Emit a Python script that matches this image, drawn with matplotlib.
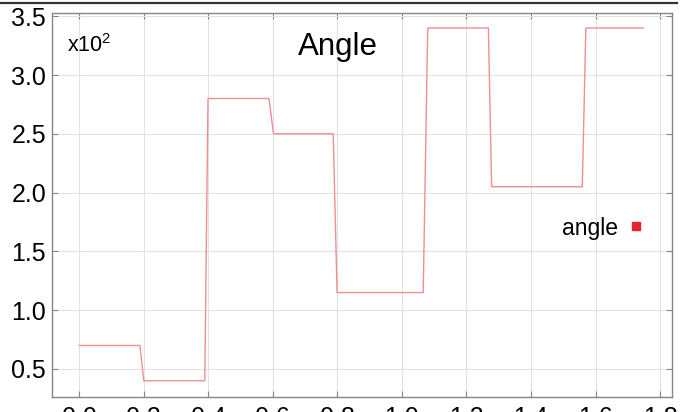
import matplotlib
matplotlib.use("Agg")
import matplotlib.pyplot as plt
from matplotlib.lines import Line2D
from matplotlib.ticker import FuncFormatter

# Data (angle in degrees vs time)
time = [0.0, 0.188, 0.200, 0.389, 0.399, 0.588, 0.602, 0.787, 0.799,
        1.066, 1.080, 1.268, 1.278, 1.559, 1.570, 1.748]
angle = [70, 70, 40, 40, 280, 280, 250, 250, 115, 115, 340, 340, 205, 205, 340, 340]
xticks = [0.0, 0.2, 0.4, 0.6, 0.8, 1.0, 1.2, 1.4, 1.6, 1.8]
yticks = [50, 100, 150, 200, 250, 300, 350]

plt.rcParams['font.family'] = ['Liberation Sans', 'DejaVu Sans']
plt.rcParams['mathtext.fontset'] = 'custom'
plt.rcParams['mathtext.rm'] = 'Liberation Sans'
plt.rcParams['mathtext.it'] = 'Liberation Sans'

fig = plt.figure(figsize=(6.88, 4.12), dpi=100)
ax = fig.add_axes([0.0751, 0.0376, 0.9021, 0.9316])

ax.plot(time, angle, color='#ee8f93', lw=1.0)

ax.set_xlim(-0.0855, 1.838)
ax.set_ylim(26.6, 353)
ax.set_xticks(xticks)
ax.set_yticks(yticks)
ax.xaxis.set_major_formatter(FuncFormatter(lambda v, p: f"{v:.1f}"))
ax.yaxis.set_major_formatter(FuncFormatter(lambda v, p: f"{v/100:.1f}"))

ax.grid(True, color='#e2e2e2', lw=0.8)
ax.set_axisbelow(True)
for s in ax.spines.values():
    s.set_color('#858585')
    s.set_linewidth(1.0)
ax.tick_params(direction='in', length=4, width=0.8, color='#858585',
               top=True, right=True, labelsize=18, pad=4)
ax.tick_params(axis='x', pad=7)

ax.text(0.462, 0.89, 'Angle', transform=ax.transAxes, ha='center',
        va='baseline', fontsize=22.5)
ax.text(0.024, 0.898, r'x10$^{2}$', transform=ax.transAxes, ha='left',
        va='baseline', fontsize=15.5)

handle = Line2D([], [], marker='s', color='#e8242a', linestyle='none',
                markersize=6)
ax.legend([handle], ['angle'], loc='center right', bbox_to_anchor=(0.968, 0.439),
          frameon=False, markerfirst=False, fontsize=16.5, handlelength=0.6,
          handletextpad=0.5, borderaxespad=0)

fig.add_artist(Line2D([0.0, 0.984], [0.992, 0.992], transform=fig.transFigure,
                      color='#333333', lw=1.6))

fig.savefig('out.png', dpi=100)
